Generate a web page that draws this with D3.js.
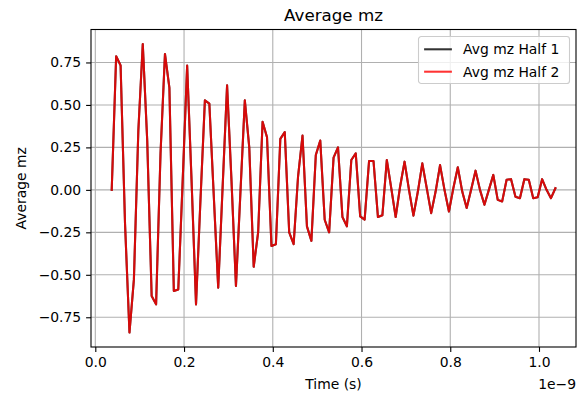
<!DOCTYPE html>
<meta charset="utf-8">
<html>
<style>
	body { margin: 0; background: #fff; }
	text { font-family: "DejaVu Sans", sans-serif; fill: #000; }
	.grid line { stroke: #b0b0b0; stroke-width: 1.1px; }
	.line { fill: none; stroke-width: 2.08px; stroke-linejoin: round; stroke-linecap: square; }
</style>
<body>
<script src="https://cdn.jsdelivr.net/npm/d3@7"></script>
<script>
	// sample times, in units of 1e-9 s
	var timeNs = [
		0.037, 0.047, 0.057, 0.067, 0.077, 0.087, 0.097, 0.107, 0.117, 0.127,
		0.137, 0.147, 0.157, 0.167, 0.177, 0.187, 0.197, 0.207, 0.217, 0.227,
		0.237, 0.247, 0.257, 0.267, 0.277, 0.287, 0.297, 0.307, 0.317, 0.327,
		0.337, 0.347, 0.357, 0.367, 0.377, 0.387, 0.397, 0.407, 0.417, 0.427,
		0.437, 0.447, 0.457, 0.467, 0.477, 0.487, 0.497, 0.507, 0.517, 0.527,
		0.537, 0.547, 0.557, 0.567, 0.577, 0.587, 0.597, 0.607, 0.617, 0.627,
		0.637, 0.647, 0.657, 0.667, 0.677, 0.687, 0.697, 0.707, 0.717, 0.727,
		0.737, 0.747, 0.757, 0.767, 0.777, 0.787, 0.797, 0.807, 0.817, 0.827,
		0.837, 0.847, 0.857, 0.867, 0.877, 0.887, 0.897, 0.907, 0.917, 0.927,
		0.937, 0.947, 0.957, 0.967, 0.977, 0.987, 0.997, 1.007, 1.017, 1.027,
		1.037
	];

	var mzHalf1 = [
		0.00, 0.787, 0.732, -0.20, -0.84, -0.527, 0.35, 0.859, 0.29, -0.625,
		-0.674, 0.216, 0.80, 0.60, -0.595, -0.586, 0.06, 0.732, 0.05, -0.674,
		-0.06, 0.527, 0.508, -0.035, -0.576, 0.02, 0.615, 0.05, -0.566, -0.02,
		0.527, 0.25, -0.453, -0.25, 0.40, 0.31, -0.33, -0.32, 0.30, 0.34,
		-0.25, -0.32, 0.08, 0.32, -0.215, -0.30, 0.205, 0.29, -0.176, -0.25,
		0.19, 0.25, -0.16, -0.215, 0.176, 0.215, -0.156, -0.175, 0.17, 0.17,
		-0.16, -0.15, 0.176, 0.01, -0.16, 0.02, 0.166, 0.00, -0.152, -0.01,
		0.156, 0.01, -0.137, -0.01, 0.146, 0.00, -0.127, 0.01, 0.133, -0.01,
		-0.107, 0.00, 0.113, 0.00, -0.088, 0.00, 0.088, -0.059, -0.068, 0.06,
		0.063, -0.04, -0.049, 0.063, 0.059, -0.049, -0.043, 0.063, 0.00, -0.049,
		0.01
	];

	// the second half lies exactly on top of the first in the picture
	var mzHalf2 = mzHalf1.slice();

	var xTicks = [0, 0.2, 0.4, 0.6, 0.8, 1.0];
	var yTicks = [-0.75, -0.5, -0.25, 0, 0.25, 0.5, 0.75];
	var seriesNames = ["Avg mz Half 1", "Avg mz Half 2"];
	var seriesColors = ["#000000", "#ff0000"];

	var width = 577, height = 401;
	var plot = { left: 91, right: 576, top: 29.5, bottom: 347 };

	var svg = d3.select("body").append("svg")
		.attr("width", width)
		.attr("height", height);

	var x = d3.scaleLinear().domain([-0.0097, 1.0834]).range([plot.left, plot.right]);
	var y = d3.scaleLinear().domain([-0.925, 0.944]).range([plot.bottom, plot.top]);

	//grid
	var grid = svg.append("g").attr("class", "grid");
	grid.selectAll(".gx").data(xTicks).enter().append("line")
		.attr("x1", function (d) { return x(d); })
		.attr("x2", function (d) { return x(d); })
		.attr("y1", plot.top).attr("y2", plot.bottom);
	grid.selectAll(".gy").data(yTicks).enter().append("line")
		.attr("y1", function (d) { return y(d); })
		.attr("y2", function (d) { return y(d); })
		.attr("x1", plot.left).attr("x2", plot.right);

	//lines
	var seriesData = [mzHalf1, mzHalf2];
	var line = d3.line()
		.x(function (d, i) { return x(timeNs[i]); })
		.y(function (d) { return y(d); });

	svg.selectAll(".line").data(seriesData).enter().append("path")
		.attr("class", "line")
		.attr("d", line)
		.attr("stroke", function (d, i) { return seriesColors[i]; })
		.attr("stroke-opacity", 0.8);

	//axes
	var xAxis = svg.append("g")
		.attr("transform", "translate(0," + plot.bottom + ")")
		.call(d3.axisBottom(x).tickValues(xTicks).tickFormat(d3.format(".1f"))
			.tickSize(4.9).tickPadding(4.9));
	var yAxis = svg.append("g")
		.attr("transform", "translate(" + plot.left + ",0)")
		.call(d3.axisLeft(y).tickValues(yTicks).tickFormat(d3.format(".2f"))
			.tickSize(4.9).tickPadding(4.9));

	[xAxis, yAxis].forEach(function (a) {
		a.select(".domain").remove();
		a.attr("font-family", null).attr("font-size", null);
		a.selectAll("line").attr("stroke", "#000").attr("stroke-width", 1.1);
		a.selectAll("text").attr("fill", "#000").style("font-size", "13.9px");
	});

	//spines
	svg.append("rect")
		.attr("x", plot.left).attr("y", plot.top)
		.attr("width", plot.right - plot.left)
		.attr("height", plot.bottom - plot.top)
		.attr("fill", "none")
		.attr("stroke", "#000")
		.attr("stroke-width", 1.1);

	//labels
	svg.append("text")
		.attr("x", (plot.left + plot.right) / 2).attr("y", 21)
		.attr("text-anchor", "middle")
		.style("font-size", "16.7px")
		.text("Average mz");

	svg.append("text")
		.attr("x", (plot.left + plot.right) / 2).attr("y", 389)
		.attr("text-anchor", "middle")
		.style("font-size", "13.9px")
		.text("Time (s)");

	svg.append("text")
		.attr("x", plot.right).attr("y", 389)
		.attr("text-anchor", "end")
		.style("font-size", "13.9px")
		.text("1e\u22129");

	svg.append("text")
		.attr("transform", "translate(25.5," + (plot.top + plot.bottom) / 2 + ") rotate(-90)")
		.attr("text-anchor", "middle")
		.style("font-size", "13.9px")
		.text("Average mz");

	//legend
	var legend = svg.append("g").attr("transform", "translate(418.5,36.5)");
	legend.append("rect")
		.attr("width", 151).attr("height", 47)
		.attr("rx", 2.8).attr("ry", 2.8)
		.attr("fill", "#fff").attr("fill-opacity", 0.8)
		.attr("stroke", "#cccccc").attr("stroke-width", 1.1);

	var item = legend.selectAll(".item").data(seriesNames).enter().append("g")
		.attr("transform", function (d, i) { return "translate(0," + (12.8 + i * 22.4) + ")"; });
	item.append("line")
		.attr("x1", 5.6).attr("x2", 33.4)
		.attr("stroke", function (d, i) { return seriesColors[i]; })
		.attr("stroke-opacity", 0.8)
		.attr("stroke-width", 2.08);
	item.append("text")
		.attr("x", 44.5).attr("y", 5)
		.style("font-size", "13.9px")
		.text(function (d) { return d; });
</script>
</body>
</html>
